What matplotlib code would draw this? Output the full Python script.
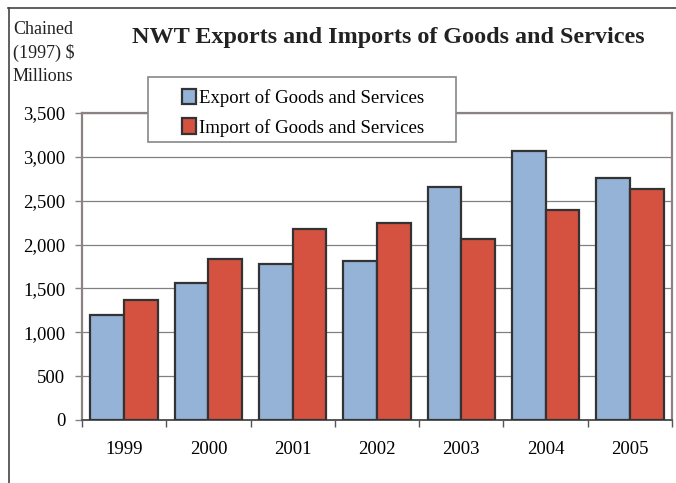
import numpy as np
import matplotlib
matplotlib.use("Agg")
from matplotlib import pyplot as plt
from matplotlib.patches import Rectangle
from matplotlib.lines import Line2D
from matplotlib.ticker import FuncFormatter

# 数据（百万加元，1997年链式价格）
years = ["1999", "2000", "2001", "2002", "2003", "2004", "2005"]
exports = [1195, 1567, 1777, 1811, 2651, 3070, 2762]
imports = [1366, 1834, 2180, 2245, 2069, 2397, 2633]

series_names = ["Export of Goods and Services", "Import of Goods and Services"]
export_color = "#95b3d7"
import_color = "#d55241"
edge_color = "#333333"
frame_color = "#8c8282"

plt.rcParams["font.family"] = ["Liberation Serif", "DejaVu Serif"]

W, H = 676, 483
fig = plt.figure(figsize=(W / 100, H / 100), dpi=100)

def px(x, y):
    # 像素坐标 -> figure 坐标
    return x / W, 1 - y / H

# 外框（只露出上边和左边）
fig.add_artist(Line2D([8 / W, 1.0], [1 - 8 / H] * 2, color="#444444", lw=1.2))
fig.add_artist(Line2D([9 / W] * 2, [0.0, 1 - 8 / H], color="#444444", lw=1.2))

x0, y0 = px(82, 420)
x1, y1 = px(672, 113)
ax = fig.add_axes([x0, y0, x1 - x0, y1 - y0])

x = np.arange(len(years))
w = 0.4
ax.bar(x - w / 2, exports, w, color=export_color, edgecolor=edge_color,
       linewidth=1.6, label=series_names[0], zorder=3)
ax.bar(x + w / 2, imports, w, color=import_color, edgecolor=edge_color,
       linewidth=1.6, label=series_names[1], zorder=3)

ax.set_xlim(-0.5, len(years) - 0.5)
ax.set_ylim(0, 3500)
ax.set_yticks(np.arange(0, 3501, 500))
ax.yaxis.set_major_formatter(FuncFormatter(lambda v, p: f"{int(v):,}"))
ax.yaxis.grid(True, color="#808080", lw=0.9, zorder=0)

# x轴刻度放在类别之间
ax.set_xticks(np.arange(-0.5, len(years), 1.0))
ax.set_xticklabels([])
ax.set_xticks(x, minor=True)
ax.set_xticklabels(years, minor=True, fontsize=13.5)
ax.tick_params(axis="x", which="minor", length=0, pad=15)
ax.tick_params(axis="x", which="major", length=5, color="#555555", width=1)
ax.tick_params(axis="y", length=5, color=frame_color, width=1, labelsize=13.5, pad=7)

for s in ["top", "right", "left"]:
    ax.spines[s].set_color(frame_color)
    ax.spines[s].set_linewidth(1.6)
ax.spines["bottom"].set_color("#555555")
ax.spines["bottom"].set_linewidth(1.4)

# 标题和单位
fig.text(*px(388, 38), "NWT Exports and Imports of Goods and Services",
         ha="center", va="center", fontsize=17.4, fontweight="bold", color="#222222")
fig.text(*px(13, 21), "Chained\n(1997) $\nMillions", ha="left", va="top",
         fontsize=13, linespacing=1.45, color="#222222")

# 图例
lx0, ly0 = px(148, 142)
lx1, ly1 = px(456, 77)
fig.add_artist(Rectangle((lx0, ly0), lx1 - lx0, ly1 - ly0, transform=fig.transFigure,
                         facecolor="white", edgecolor="#888888", lw=1.2, zorder=5))
leg = fig.legend(loc="upper left", bbox_to_anchor=px(174, 81), frameon=False,
                 fontsize=13.5, handlelength=0.75, handleheight=0.9,
                 handletextpad=0.2, labelspacing=0.62, borderaxespad=0)
leg.set_zorder(6)

fig.savefig("out.png", dpi=100)
